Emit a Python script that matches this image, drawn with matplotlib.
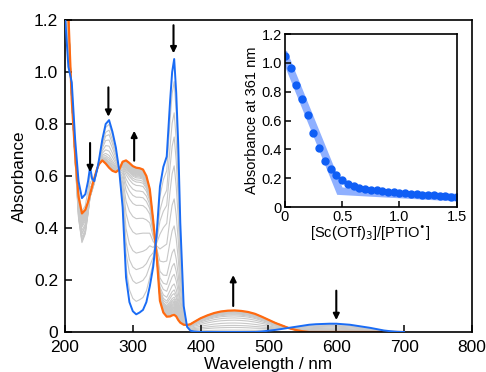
import numpy as np
import matplotlib
matplotlib.use("Agg")
import matplotlib.pyplot as plt

plt.rcParams['font.family'] = ['Liberation Sans', 'DejaVu Sans']

# ---- spectra (common wavelength grid)
wl = [200, 205, 210, 215, 220, 225, 230, 234, 237, 240, 243, 247, 250, 255, 260,
      265, 270, 275, 280, 285, 290, 295, 300, 305, 310, 315, 320, 325, 330, 335,
      340, 345, 350, 355, 358, 361, 364, 367, 370, 375, 380, 385, 390, 400, 410,
      420, 430, 440, 450, 460, 470, 480, 490, 500, 510, 520, 530, 540, 550, 560,
      570, 580, 590, 600, 610, 620, 630, 640, 650, 660, 670, 680, 690, 700]

blue = [1.22, 1.02, 0.96, 0.74, 0.58, 0.515, 0.53, 0.58, 0.635, 0.59, 0.58, 0.62, 0.66, 0.74, 0.80,
        0.815, 0.77, 0.71, 0.62, 0.48, 0.21, 0.115, 0.08, 0.068, 0.075, 0.085, 0.115, 0.175, 0.25, 0.37,
        0.56, 0.635, 0.675, 0.89, 1.0, 1.05, 0.92, 0.72, 0.42, 0.10, 0.02, 0.005, 0.002, 0.0, 0.0,
        0.0, 0.0, 0.0, 0.0, 0.0, 0.0, 0.0, 0.002, 0.005, 0.008, 0.012, 0.016, 0.02, 0.024, 0.028,
        0.03, 0.031, 0.032, 0.032, 0.03, 0.028, 0.024, 0.02, 0.016, 0.011, 0.006, 0.003, 0.001, 0.0]

orange = [1.35, 1.22, 0.89, 0.68, 0.52, 0.456, 0.47, 0.50, 0.53, 0.56, 0.59, 0.625, 0.645, 0.66, 0.648,
          0.632, 0.62, 0.615, 0.625, 0.655, 0.66, 0.65, 0.638, 0.632, 0.63, 0.625, 0.60, 0.55, 0.43, 0.30,
          0.12, 0.075, 0.059, 0.06, 0.064, 0.066, 0.06, 0.046, 0.036, 0.028, 0.027, 0.03, 0.038, 0.053, 0.064,
          0.073, 0.079, 0.082, 0.083, 0.081, 0.077, 0.070, 0.059, 0.047, 0.035, 0.025, 0.015, 0.008, 0.003, 0.0,
          0.0, 0.0, 0.0, 0.0, 0.0, 0.0, 0.0, 0.0, 0.0, 0.0, 0.0, 0.0, 0.0, 0.0]

# extra depth of the intermediate spectra around 225 nm
dip = [0.0, 0.0, 0.01, 0.05, 0.11, 0.14, 0.12, 0.08, 0.05, 0.03, 0.015, 0.0] + [0.0] * 62

# ---- inset titration data
ratio = [i * 0.05 for i in range(31)]
a361 = [1.05, 0.963, 0.843, 0.75, 0.639, 0.512, 0.408, 0.319, 0.264, 0.222, 0.185,
        0.162, 0.148, 0.134, 0.126, 0.12, 0.115, 0.11, 0.106, 0.102, 0.098,
        0.095, 0.092, 0.089, 0.086, 0.083, 0.080, 0.077, 0.074, 0.071, 0.068]
fit_x = [0, 0.48, 1.5]
fit_y = [1.05, 0.11, 0.065]

wl = np.array(wl)
blue = np.array(blue)
orange = np.array(orange)
dip = np.array(dip)

BLUE = '#1a6cf5'
ORANGE = '#ff6a10'

fig = plt.figure(figsize=(4.86, 3.72), dpi=100)
ax = fig.add_axes([0.1337, 0.1075, 0.8374, 0.8387])

# intermediate spectra (grey)
i361 = list(wl).index(361)
for a in a361[1:-1]:
    f = (blue[i361] - a) / (blue[i361] - orange[i361])
    f = min(max(f, 0), 1)
    spec = (1 - f) * blue + f * orange - 4 * f * (1 - f) * dip
    ax.plot(wl, spec, color='#c8c8c8', lw=0.8, zorder=1)

ax.plot(wl, blue, color=BLUE, lw=1.4, zorder=3)
ax.plot(wl, orange, color=ORANGE, lw=1.6, zorder=2)

ax.set_xlim(200, 800)
ax.set_ylim(0, 1.2)
ax.set_xticks([200, 300, 400, 500, 600, 700, 800])
ax.set_yticks([0, 0.2, 0.4, 0.6, 0.8, 1.0, 1.2])
ax.set_yticklabels(['0', '0.2', '0.4', '0.6', '0.8', '1.0', '1.2'])
ax.tick_params(direction='in', length=5, width=1.1, labelsize=12.5)
ax.tick_params(axis='x', pad=6)
ax.tick_params(axis='y', pad=5)
for s in ax.spines.values():
    s.set_linewidth(1.2)
ax.set_xlabel('Wavelength / nm', fontsize=12.3, labelpad=1)
ax.set_ylabel('Absorbance', fontsize=12.3, labelpad=5)

# arrows: (x, tail y, head y)
arrows = [(237, 0.727, 0.615), (264, 0.941, 0.828), (302, 0.659, 0.774),
          (360, 1.18, 1.072), (448, 0.10, 0.219), (600, 0.159, 0.046)]
for x, y0, y1 in arrows:
    ax.annotate('', xy=(x, y1), xytext=(x, y0),
                arrowprops=dict(arrowstyle='-|>', color='black', lw=1.5,
                                mutation_scale=9, shrinkA=0, shrinkB=0))

# inset
ins = fig.add_axes([0.586, 0.4435, 0.354, 0.465])
ins.plot(fit_x, fit_y, color='#6a96ff', lw=5.5, alpha=0.75, solid_joinstyle='miter', zorder=1)
ins.plot(ratio, a361, 'o', color='#0f5ef5', ms=5, zorder=2)
ins.set_xlim(0, 1.5)
ins.set_ylim(0, 1.2)
ins.set_xticks([0, 0.5, 1.0, 1.5])
ins.set_xticklabels(['0', '0.5', '1.0', '1.5'])
ins.set_yticks([0, 0.2, 0.4, 0.6, 0.8, 1.0, 1.2])
ins.set_yticklabels(['0', '0.2', '0.4', '0.6', '0.8', '1.0', '1.2'])
ins.tick_params(direction='in', length=4, width=1.1, labelsize=10.5, pad=2)
for s in ins.spines.values():
    s.set_linewidth(1.2)
ins.set_xlabel(r'[Sc(OTf)$_3$]/[PTIO$^{\bullet}$]', fontsize=10.5, labelpad=1)
ins.set_ylabel('Absorbance at 361 nm', fontsize=10.5, labelpad=2)

plt.savefig('out.png', dpi=100)
